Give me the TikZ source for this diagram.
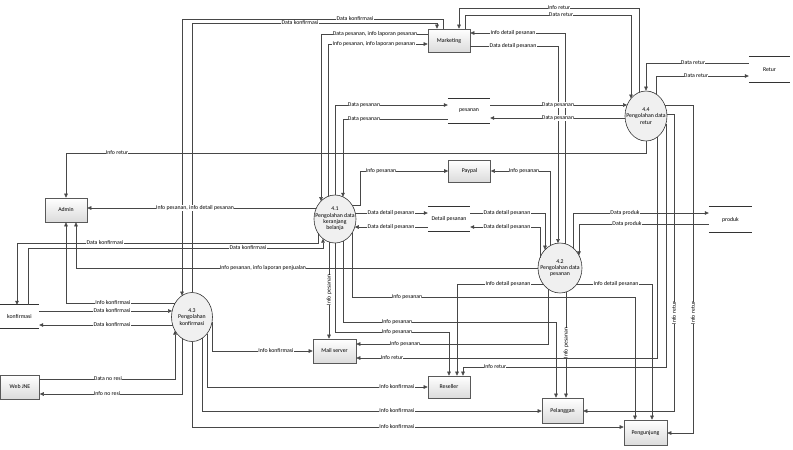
\documentclass[tikz,border=0pt]{standalone}
\usepackage{fontspec}
\setmainfont{Carlito}
\usetikzlibrary{arrows.meta,shapes.geometric,calc}
\newcommand\dfdfont{\fontsize{5.8}{6.4}\selectfont}
\tikzset{
  box/.style={draw=black!65, top color=white, bottom color=black!14, line width=0.6pt,
    minimum width=42, minimum height=23, inner sep=0, font=\dfdfont},
  proc/.style={ellipse, draw=black!80, fill=black!6, line width=0.6pt, inner sep=0},
  ptext/.style={font=\dfdfont, align=center, inner sep=0},
  store/.style={minimum width=42, minimum height=24, inner sep=0, font=\dfdfont},
  storeline/.style={draw=black!80, line width=0.7pt},
  flow/.style={draw=black!72, line width=0.55pt, -{Triangle[length=4,width=3.6]}},
  lbl/.style={fill=white, inner sep=0.3pt, font=\dfdfont},
  vlbl/.style={lbl, rotate=90}
}
\begin{document}
\begin{tikzpicture}[x=1pt,y=-1pt]
\useasboundingbox (0,0) rectangle (793,450);
% ---------- nodes ----------
\node[box] (mkt) at (449,40.5) {Marketing};
\node[box, minimum height=24] (admin) at (66,210) {Admin};
\node[box, minimum height=22] (paypal) at (469.5,171) {Paypal};
\node[box, minimum width=43, minimum height=24] (mail) at (334.5,351) {Mail server};
\node[box, minimum height=22] (res) at (449,387) {Reseller};
\node[box, minimum width=41, minimum height=25] (pel) at (562.5,410.5) {Pelanggan};
\node[box, minimum width=43, minimum height=25] (peng) at (645.5,432.5) {Pengunjung};
\node[box, minimum width=39, minimum height=24] (jne) at (20,387) {Web JNE};

\node[proc, minimum width=42, minimum height=48] (n41) at (335,219) {};
\node[ptext] (n41t) at (n41) {4.1\\Pengolahan data\\keranjang\\belanja};
\node[proc, minimum width=44, minimum height=50] (n42) at (560,268) {};
\node[ptext] (n42t) at (n42) {4.2\\Pengolahan data\\pesanan};
\node[proc, minimum width=41, minimum height=49] (n43) at (192,317) {};
\node[ptext] (n43t) at (n43) {4.3\\Pengolahan\\konfirmasi};
\node[proc, minimum width=42, minimum height=50] (n44) at (646,116) {};
\node[ptext] (n44t) at (n44) {4.4\\Pengolahan data\\retur};

\node[store, minimum width=41, minimum height=25] (ret) at (769.5,69.5) {Retur};
\node[store] (pes) at (469,111) {pesanan};
\node[store] (det) at (449,219) {Detail pesanan};
\node[store, minimum width=43, minimum height=25] (prod) at (730.5,219.5) {produk};
\node[store, minimum width=39, minimum height=23] (konf) at (19.5,316.5) {konfirmasi};
\foreach \s in {ret,pes,det,prod,konf}{
  \draw[storeline] (\s.north west) -- (\s.north east) (\s.south west) -- (\s.south east);
}
% ---------- flows ----------
% Marketing <-> 4.3
\draw[flow] (mkt.north -| 443,0) -- (443,19) -| ($(n43)+(-10,-21.4)$);
\draw[flow] (n43.north) |- (437,23) -- (mkt.north -| 437,0);
% Marketing <-> 4.1
\draw[flow] (mkt.west |- 0,34) -| ($(n41)+(-14,-17.9)$);
\draw[flow] ($(n41)+(-7,-22.6)$) |- (mkt.west |- 0,44);
% 4.1 <-> pesanan
\draw[flow] (n41.north) |- (pes.west |- 0,105);
\draw[flow] (pes.west |- 0,119) -| ($(n41)+(8,-22.2)$);
% pesanan <-> 4.4
\draw[flow] (pes.east |- 0,105) -- ($(n44)+(-18.9,-11)$);
\draw[flow] ($(n44)+(-20.9,2)$) -- (pes.east |- 0,118);
% 4.4 <-> Marketing
\draw[flow] ($(n44)+(-7,-23.6)$) |- (459,8) -- (mkt.north -| 459,0);
\draw[flow] (mkt.north -| 465,0) |- (631,15) -- ($(n44)+(-15,-17.5)$);
% Retur <-> 4.4
\draw[flow] (ret.west |- 0,63) -| (n44.north);
\draw[flow] ($(n44)+(10,-22)$) |- (ret.west |- 0,76);
% 4.4 -> Admin, Mail, Reseller, Pelanggan, Pengunjung
\draw[flow] (n44.south) -- (646,153) -| (admin.north);
\draw[flow] ($(n44)+(11,21.3)$) |- (mail.east |- 0,358);
\draw[flow] ($(n44)+(20,7.6)$) |- (463,367) -- (res.north -| 463,0);
\draw[flow] ($(n44)+(20.9,-2)$) -- (674,114) |- (pel.east |- 0,411);
\draw[flow] ($(n44)+(18.9,-11)$) -- (693,105) |- (peng.east |- 0,433);
% Marketing <-> 4.2
\draw[flow] (mkt.east |- 0,46) -| ($(n42)+(-2,-24.9)$);
\draw[flow] ($(n42)+(5,-24.3)$) |- (mkt.east |- 0,33);
% Paypal
\draw[flow] ($(n41)+(17,-14)$) -- (360,205) |- (paypal.west);
\draw[flow] ($(n42)+(-10,-22.3)$) |- (paypal.east);
% Detail pesanan
\draw[flow] ($(n41)+(20.3,-6)$) -- (det.west |- 0,213);
\draw[flow] (det.west |- 0,227) -- ($(n41)+(19.8,8)$);
\draw[flow] (det.east |- 0,213) -| ($(n42)+(-15,-18.3)$);
\draw[flow] ($(n42)+(-20,-10.4)$) |- (det.east |- 0,227);
% produk
\draw[flow] ($(n42)+(13,-20.2)$) |- (prod.west |- 0,213);
\draw[flow] (prod.west |- 0,224) -| ($(n42)+(19,-12.6)$);
% Admin
\draw[flow] ($(n41)+(-18.7,-11)$) -- (admin.east |- 0,208);
\draw[flow] (n42.west) -| (admin.south -| 76,0);
\draw[flow] ($(n43)+(-16.8,-14)$) -| (admin.south);
% konfirmasi
\draw[flow] ($(n41)+(-17,14.1)$) -- (318,243) -| (konf.north -| 17,0);
\draw[flow] (konf.north -| 28,0) |- (323,248) -- ($(n41)+(-12,19.7)$);
\draw[flow] (konf.east |- 0,311) -- ($(n43)+(-19.9,-6)$);
\draw[flow] ($(n43)+(-19.4,8)$) -- (konf.east |- 0,325);
% Web JNE
\draw[flow] (jne.east |- 0,379) -| ($(n43)+(-17,13.7)$);
\draw[flow] ($(n43)+(-10,21.4)$) |- (jne.east |- 0,394);
% 4.3 -> Mail, Reseller, Pelanggan, Pengunjung
\draw[flow] ($(n43)+(20,5.4)$) |- (mail.west);
\draw[flow] ($(n43)+(15,16.7)$) |- (res.west);
\draw[flow] ($(n43)+(10,21.4)$) |- (pel.west |- 0,411);
\draw[flow] (n43.south) |- (peng.west |- 0,427);
% 4.1 -> Mail, Reseller, Pelanggan, Pengunjung
\draw[flow] ($(n41)+(-6,23)$) -- (mail.north -| 329,0);
\draw[flow] (n41.south) -- (335,332) -| (res.north);
\draw[flow] ($(n41)+(8,22.2)$) |- (556,322) -- (pel.north -| 556,0);
\draw[flow] ($(n41)+(17,14.1)$) |- (635,297) -- (peng.north -| 635,0);
% 4.2 -> Reseller, Pengunjung, Mail, Pelanggan
\draw[flow] ($(n42)+(-16.9,16)$) -| (res.north -| 457,0);
\draw[flow] ($(n42)+(16.9,16)$) -| (peng.north -| 652,0);
\draw[flow] ($(n42)+(-12,21)$) |- (mail.east |- 0,344);
\draw[flow] ($(n42)+(6,24)$) -- (pel.north -| 566,0);
% ---------- labels ----------
\node[lbl] (t1) at (300,23) {Data konfirmasi};
\node[lbl] (t2) at (355,19) {Data konfirmasi};
\node[lbl] (t3) at (375,34) {Data pesanan, info laporan pesanan};
\node[lbl] (t4) at (374,44) {Info pesanan, info laporan pesanan};
\node[lbl] (t5) at (559,8) {Info retur};
\node[lbl] (t6) at (561,15) {Data retur};
\node[lbl] (t7) at (513,33) {Info detail pesanan};
\node[lbl] (t8) at (513,46) {Data detail pesanan};
\node[lbl] (t9) at (693,63) {Data retur};
\node[lbl] (t10) at (696,76) {Data retur};
\node[lbl] (t11) at (364,105) {Data pesanan};
\node[lbl] (t12) at (364,119) {Data pesanan};
\node[lbl] (t13) at (558,105) {Data pesanan};
\node[lbl] (t14) at (558,118) {Data pesanan};
\node[lbl] (t15) at (117,153) {Info retur};
\node[lbl] (t16) at (381,171) {Info pesanan};
\node[lbl] (t17) at (524,171) {Info pesanan};
\node[lbl] (t18) at (195,208) {Info pesanan, info detail pesanan};
\node[lbl] (t19) at (391,213) {Data detail pesanan};
\node[lbl] (t20) at (391,227) {Data detail pesanan};
\node[lbl] (t21) at (507,213) {Data detail pesanan};
\node[lbl] (t22) at (507,227) {Data detail pesanan};
\node[lbl] (t23) at (625,213) {Data produk};
\node[lbl] (t24) at (627,224) {Data produk};
\node[lbl] (t25) at (105,243) {Data konfirmasi};
\node[lbl] (t26) at (248,248) {Data konfirmasi};
\node[lbl] (t27) at (263,268) {Info pesanan, info laporan penjualan};
\node[lbl] (t28) at (508,284) {Info detail pesanan};
\node[lbl] (t29) at (616,284) {Info detail pesanan};
\node[lbl] (t30) at (407,297) {Info pesanan};
\node[lbl] (t31) at (397,322) {Info pesanan};
\node[lbl] (t32) at (397,332) {Info pesanan};
\node[lbl] (t33) at (405,344) {Info pesanan};
\node[lbl] (t34) at (392,358) {Info retur};
\node[lbl] (t35) at (495,367) {Info retur};
\node[lbl] (t36) at (113,303) {Info konfirmasi};
\node[lbl] (t37) at (112,311) {Data konfirmasi};
\node[lbl] (t38) at (112,325) {Data konfirmasi};
\node[lbl] (t39) at (276,351) {Info konfirmasi};
\node[lbl] (t40) at (108,379) {Data no resi};
\node[lbl] (t41) at (107,394) {Info no resi};
\node[lbl] (t42) at (397,387) {Info konfirmasi};
\node[lbl] (t43) at (397,411) {Info konfirmasi};
\node[lbl] (t44) at (397,427) {Info konfirmasi};
\node[vlbl] (t45) at (329,290) {Info pesanan};
\node[vlbl] (t46) at (566,343) {Info pesanan};
\node[vlbl] (t47) at (674,313) {Info retur};
\node[vlbl] (t48) at (693,313) {Info retur};
\end{tikzpicture}
\end{document}
